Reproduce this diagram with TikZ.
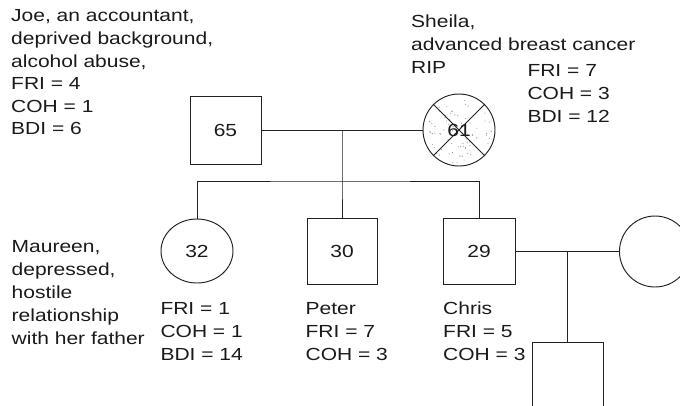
\documentclass[tikz,border=0pt]{standalone}
\usepackage{fontspec}
\setmainfont{Liberation Sans}[FakeStretch=1.2]
\definecolor{mLine}{HTML}{222222}
\definecolor{mText}{HTML}{1A1A1A}
\definecolor{mDot}{HTML}{8A8A8A}
\usetikzlibrary{shapes.geometric,backgrounds}

\begin{document}
\begin{tikzpicture}[x=1pt, y=-1pt, font=\fontsize{17.5}{23}\selectfont, text=mText,
  male/.style={draw=mLine, line width=0.95pt, rectangle, minimum width=71pt, minimum height=66pt, inner sep=0pt},
  female/.style={draw=mLine, line width=0.95pt, circle, minimum size=72pt, inner sep=0pt},
  note/.style={anchor=north west, inner sep=0pt, align=left},
  tie/.style={draw=mLine, line width=0.95pt}]
\clip (0,0) rectangle (680,405);

% parents
\node[male, minimum height=68pt] (joe) at (225.5,130) {65};
\node[female] (sheila) at (459,130) {61};
\begin{scope}[on background layer]
  \pgfmathsetseed{11}
  \foreach \k in {1,...,75} {
    \pgfmathsetmacro\rr{34*sqrt(rnd)}
    \pgfmathsetmacro\aa{360*rnd}
    \fill[mDot] (sheila.center) ++(\aa:\rr) circle (0.55pt);
  }
  \draw[tie] (sheila.north west) -- (sheila.south east);
  \draw[tie] (sheila.north east) -- (sheila.south west);
\end{scope}

% children
\node[female, ellipse, minimum width=72pt, minimum height=64pt] (maureen) at (197,251) {32};
\node[male, minimum width=70pt] (peter) at (342,251.5) {30};
\node[male, minimum width=72pt] (chris) at (479,251.5) {29};
\coordinate (sibs) at (342,181);

% next generation
\node[female, minimum size=71pt] (wife) at (655,251.5) {};
\node[male, minimum height=67pt] (child) at (567.5,375.5) {};

% lines of descent
\draw[tie] (joe.east) -- (sheila.west);
\draw[tie] (sibs |- joe.east) -- (sibs) -- (peter.north);
\draw[tie] (maureen.north) |- (sibs) -| (chris.north);
\draw[tie] (chris.east) -- (wife.west);
\draw[tie] (child.north |- chris.east) -- (child.north);

% notes
\node[note, font=\fontsize{17.5}{22.6}\selectfont] (joenote) at (11,5.9)
  {\strut Joe, an accountant,\\deprived background,\\alcohol abuse,\\FRI = 4\\COH = 1\\BDI = 6};
\node[note] (sheilanote) at (411,10.9) {\strut Sheila,\\advanced breast cancer\\RIP};
\node[note] (sheilascore) at (527.3,60.6) {\strut FRI = 7\\COH = 3\\BDI = 12};
\node[note] (maureennote) at (11.5,235.9)
  {\strut Maureen,\\depressed,\\hostile\\relationship\\with her father};
\node[note] (maureenscore) at (160.3,298) {\strut FRI = 1\\COH = 1\\BDI = 14};
\node[note] (peternote) at (305.4,298) {\strut Peter\\FRI = 7\\COH = 3};
\node[note] (chrisnote) at (443,298) {\strut Chris\\FRI = 5\\COH = 3};
\end{tikzpicture}
\end{document}
